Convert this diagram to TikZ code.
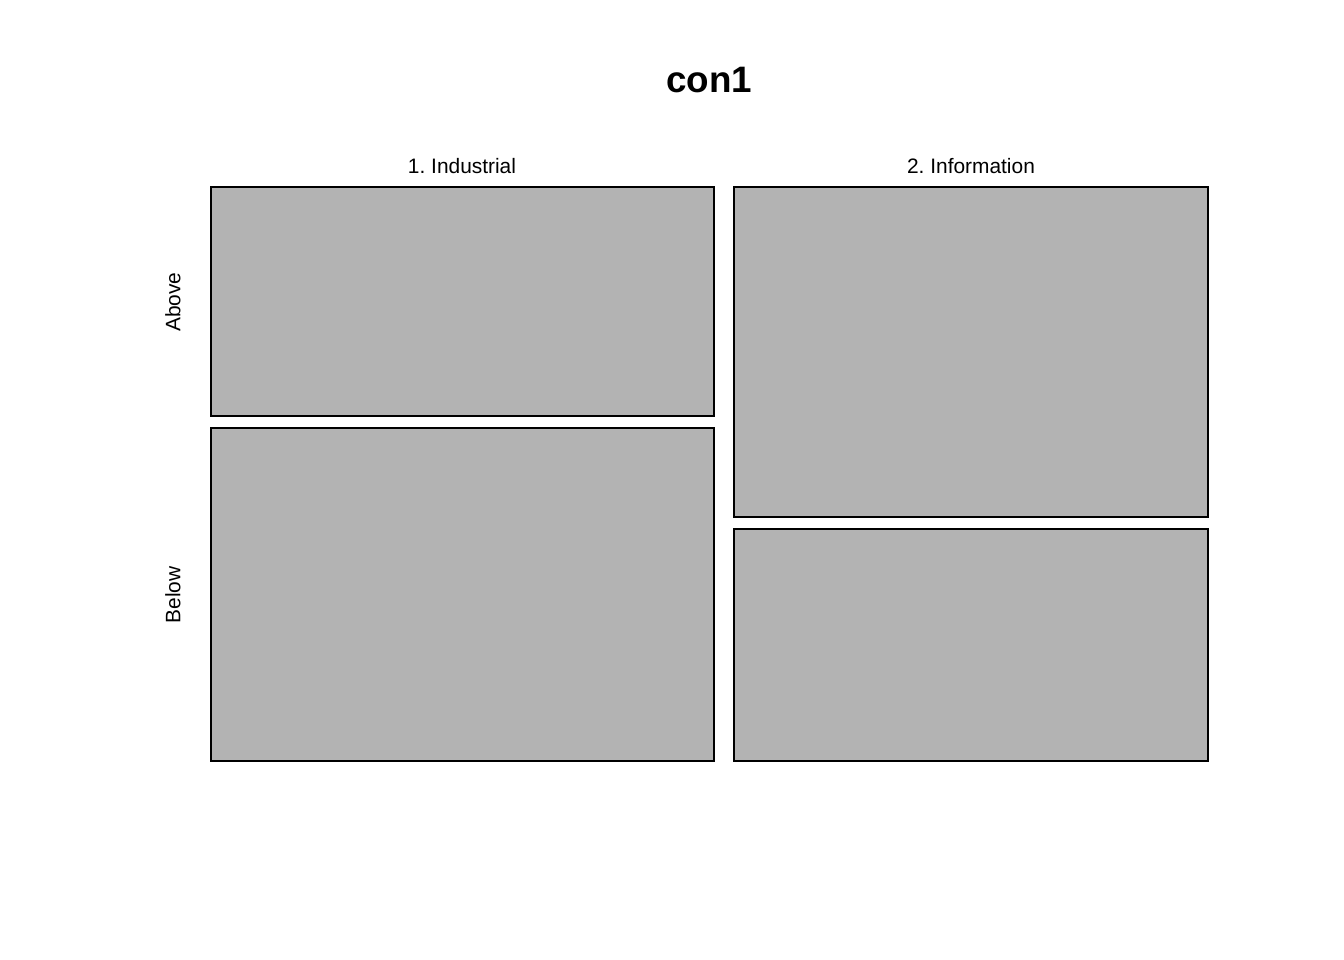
\documentclass[tikz,border=0pt]{standalone}
\usepackage{fontspec}
\setmainfont{Liberation Sans}
\frenchspacing
\begin{document}
\begin{tikzpicture}[x=1pt,y=-1pt,
  cell/.style={draw=black,fill=gray70,line width=1.6pt},
  lab/.style={font=\fontsize{20.9}{24}\selectfont,inner sep=0pt},
  ttl/.style={font=\fontsize{36.8}{42}\selectfont\bfseries,inner sep=0pt}]
\definecolor{gray70}{RGB}{179,179,179}
\useasboundingbox (0,0) rectangle (1344,960);
\fill[white] (0,0) rectangle (1344,960);
\node[ttl] (title) at (709,80) {con1};
\node[lab] (c1) at (462,166) {1. Industrial};
\node[lab] (c2) at (971,166) {2. Information};
\node[lab,rotate=90] (r1) at (173,302) {Above};
\node[lab,rotate=90] (r2) at (173,595) {Below};
\draw[cell] (211,187) rectangle (714,416);
\draw[cell] (211,428) rectangle (714,761);
\draw[cell] (734,187) rectangle (1208,517);
\draw[cell] (734,529) rectangle (1208,761);
\end{tikzpicture}
\end{document}
